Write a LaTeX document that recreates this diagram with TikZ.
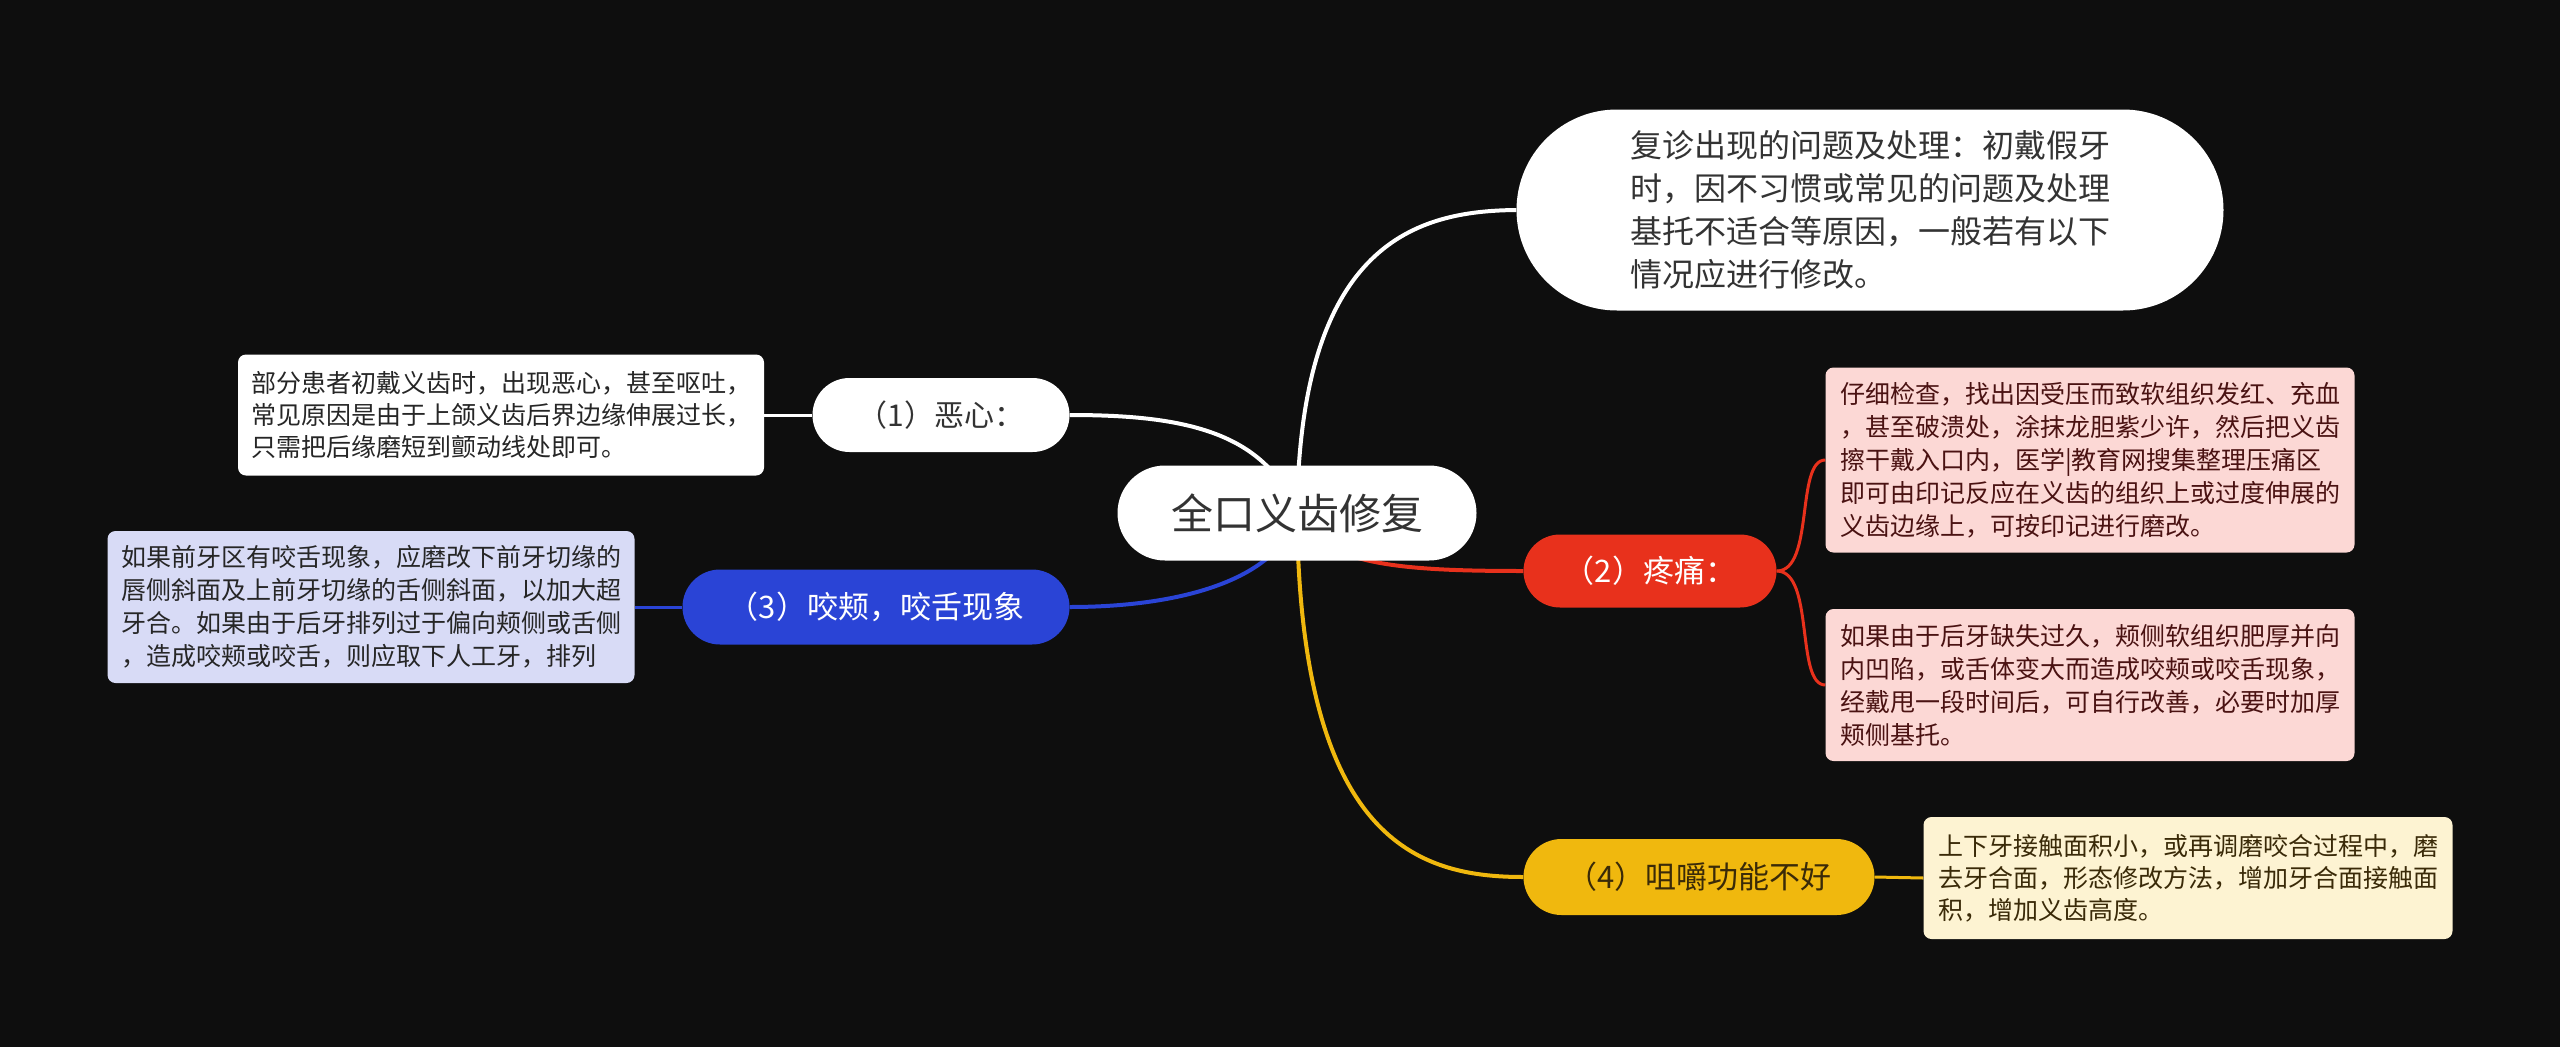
\documentclass[tikz,border=0pt]{standalone}
\usepackage{fontspec}
\setmainfont{Noto Sans CJK SC}
\usetikzlibrary{shapes.misc}
\definecolor{bg}{HTML}{0E0E0E}
\definecolor{dk}{HTML}{333333}
\definecolor{cred}{HTML}{E8311C}
\definecolor{cblue}{HTML}{2A44D6}
\definecolor{cyel}{HTML}{F0B80E}
\definecolor{fblue}{HTML}{D8DBF6}
\definecolor{fred}{HTML}{FCD8D5}
\definecolor{fyel}{HTML}{FDF3D2}
\definecolor{tred}{HTML}{4A1212}
\definecolor{tyel}{HTML}{3A2A08}
\pgfdeclarelayer{bglayer}
\pgfdeclarelayer{edges}
\pgfsetlayers{bglayer,edges,main}
\begin{document}
\begin{tikzpicture}[x=1pt,y=-1pt,
  pill/.style={rounded rectangle, inner sep=0pt, align=center},
  leaf/.style={rectangle, rounded corners=8pt, inner sep=0pt, align=left, font=\fontsize{25}{33}\selectfont},
  main/.style={line width=4pt},
  sub/.style={line width=3pt}]
\begin{pgfonlayer}{bglayer}
\fill[bg] (0,0) rectangle (2560,1047);
\end{pgfonlayer}
\useasboundingbox (0,0) rectangle (2560,1047);

\node[pill, fill=white, text=dk, minimum width=359pt, minimum height=95pt, font=\fontsize{42}{50}\selectfont] (root) at (1297,513) {全口义齿修复};

\node[pill, fill=white, text=dk, minimum width=707pt, minimum height=201pt, align=left, font=\fontsize{32}{43}\selectfont] (tr) at (1870,210) {复诊出现的问题及处理：初戴假牙\\时，因不习惯或常见的问题及处理\\基托不适合等原因，一般若有以下\\情况应进行修改。};

\node[pill, fill=white, text=dk, minimum width=257pt, minimum height=74pt, font=\fontsize{30}{36}\selectfont] (n1) at (941,415) {（1）恶心：};
\node[leaf, fill=white, text=black!85, minimum width=526pt, minimum height=121pt, font=\fontsize{25}{32}\selectfont] (l1) at (501,415) {部分患者初戴义齿时，出现恶心，甚至呕吐，\\常见原因是由于上颌义齿后界边缘伸展过长，\\只需把后缘磨短到颤动线处即可。};

\node[pill, fill=cblue, text=white, minimum width=387pt, minimum height=75pt, font=\fontsize{31}{36}\selectfont] (n3) at (876,607) {（3）咬颊，咬舌现象};
\node[leaf, fill=fblue, text=black!85, minimum width=527pt, minimum height=152pt] (l3) at (371,607) {如果前牙区有咬舌现象，应磨改下前牙切缘的\\唇侧斜面及上前牙切缘的舌侧斜面，以加大超\\牙合。如果由于后牙排列过于偏向颊侧或舌侧\\，造成咬颊或咬舌，则应取下人工牙，排列};

\node[pill, fill=cred, text=white, minimum width=253pt, minimum height=73pt, font=\fontsize{31}{36}\selectfont] (n2) at (1650,571) {（2）疼痛：};
\node[leaf, fill=fred, text=tred, minimum width=529pt, minimum height=185pt] (l2a) at (2090,460) {仔细检查，找出因受压而致软组织发红、充血\\，甚至破溃处，涂抹龙胆紫少许，然后把义齿\\擦干戴入口内，医学|教育网搜集整理压痛区\\即可由印记反应在义齿的组织上或过度伸展的\\义齿边缘上，可按印记进行磨改。};
\node[leaf, fill=fred, text=tred, minimum width=529pt, minimum height=152pt] (l2b) at (2090,685) {如果由于后牙缺失过久，颊侧软组织肥厚并向\\内凹陷，或舌体变大而造成咬颊或咬舌现象，\\经戴甩一段时间后，可自行改善，必要时加厚\\颊侧基托。};

\node[pill, fill=cyel, text=tyel, minimum width=351pt, minimum height=76pt, font=\fontsize{31}{36}\selectfont] (n4) at (1699,877) {（4）咀嚼功能不好};
\node[leaf, fill=fyel, text=tyel, minimum width=529pt, minimum height=122pt, font=\fontsize{25}{32}\selectfont] (l4) at (2188,878) {上下牙接触面积小，或再调磨咬合过程中，磨\\去牙合面，形态修改方法，增加牙合面接触面\\积，增加义齿高度。};

\begin{pgfonlayer}{edges}
\draw[main, white] (root.center) .. controls (1300,241) and (1418,211) .. (tr.west);
\draw[main, cyel] (root.center) .. controls (1300,841) and (1418,877) .. (n4.west);
\draw[main, cred] (root.center) .. controls (1320,565) and (1400,571) .. (n2.west);
\draw[main, cblue] (root.center) .. controls (1280,580) and (1180,607) .. (n3.east);
\draw[main, white] (root.center) .. controls (1265,430) and (1180,415) .. (n1.east);
\draw[sub, white] (n1.west) -- (l1.east);
\draw[sub, cblue] (n3.west) -- (l3.east);
\draw[sub, cyel] (n4.east) -- (l4.west);
\draw[sub, cred] (n2.east) .. controls +(38,0) and +(-30,0) .. (l2a.west);
\draw[sub, cred] (n2.east) .. controls +(38,0) and +(-30,0) .. (l2b.west);
\end{pgfonlayer}
\end{tikzpicture}
\end{document}
